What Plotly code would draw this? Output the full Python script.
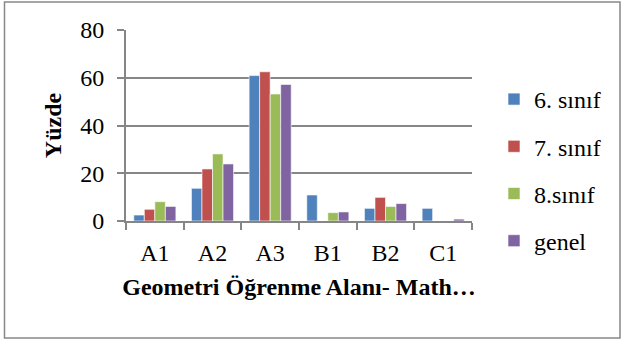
import plotly.graph_objects as go

categories = ["A1", "A2", "A3", "B1", "B2", "C1"]
series_names = ["6. sınıf", "7. sınıf", "8.sınıf", "genel"]
s6 = [2.5, 13.7, 60.9, 10.9, 5.3, 5.3]
s7 = [4.9, 21.8, 62.5, 0, 9.9, 0]
s8 = [8.1, 28.1, 53.2, 3.5, 6.1, 0]
sgen = [6.1, 23.9, 57.2, 3.8, 7.3, 0.8]
y_ticks = [0, 20, 40, 60, 80]
colors = ["#4F81BD", "#C0504D", "#9BBB59", "#8064A2"]

W, H = 625, 342
L, R, T, B = 126, 472, 30, 221
FONT = "Times New Roman, Liberation Serif, serif"
FS = 24

fig = go.Figure()
for i, (name, vals, c) in enumerate(zip(series_names, [s6, s7, s8, sgen], colors)):
    fig.add_trace(go.Bar(x=categories, y=vals, name=name, legendgroup=f"g{i}",
                         marker=dict(color=c, line=dict(color="rgba(255,255,255,0.6)", width=1))))

def px(x):
    return (x - L) / (R - L)

def py(y):
    return (B - y) / (B - T)

fig.update_layout(
    width=W, height=H,
    margin=dict(l=L, r=W - R, t=T, b=H - B, pad=0, autoexpand=False),
    paper_bgcolor="white", plot_bgcolor="white",
    barmode="group", bargap=0.27, bargroupgap=0,
    font=dict(family=FONT, color="black", size=FS),
    showlegend=True,
    legend=dict(x=px(494), y=py(170), xanchor="left", yanchor="middle",
                font=dict(family=FONT, size=FS), itemwidth=30, tracegroupgap=13,
                bgcolor="rgba(0,0,0,0)"),
    xaxis=dict(showline=True, linecolor="#868686", linewidth=2, automargin=False,
               ticks="outside", tickson="boundaries", ticklen=7, tickcolor="#868686", tickwidth=2,
               tickfont=dict(family=FONT, size=FS), ticklabelstandoff=9,
               title=dict(text="<b>Geometri Öğrenme Alanı- Math…</b>", font=dict(family=FONT, size=FS), standoff=13)),
    yaxis=dict(range=[0, 80], tickvals=y_ticks, showline=True, linecolor="#868686", linewidth=2,
               automargin=False,
               ticks="outside", ticklen=7, tickcolor="#868686", tickwidth=2,
               showgrid=True, gridcolor="#868686", gridwidth=2, zeroline=False,
               tickfont=dict(family=FONT, size=FS), ticklabelstandoff=8,
               title=dict(text="<b>Yüzde</b>", font=dict(family=FONT, size=FS), standoff=12)),
    shapes=[dict(type="rect", xref="paper", yref="paper",
                 x0=px(4.5), x1=px(620), y0=py(338), y1=py(2),
                 line=dict(color="#888888", width=1.5), fillcolor="rgba(0,0,0,0)")],
)

fig.write_html("out.html", config={"displayModeBar": False},
               post_script="document.body.style.margin='0';document.body.style.overflow='hidden';")
